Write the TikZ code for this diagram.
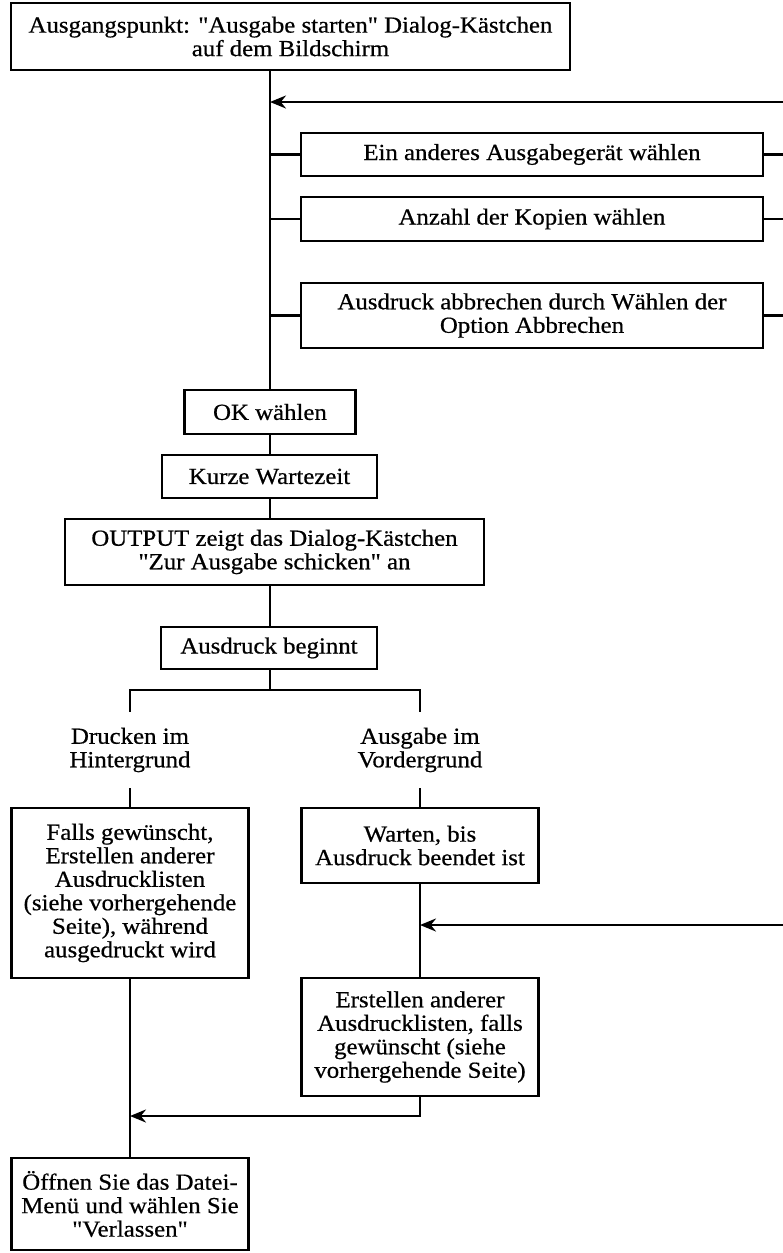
\documentclass[tikz,border=0pt]{standalone}
\usepackage{fontspec}
\newfontfamily\diafont{Liberation Serif}[FakeStretch=1.08,FakeBold=0.6]
\usetikzlibrary{arrows.meta}
\begin{document}
\begin{tikzpicture}[x=1pt,y=-1pt,
  txt/.style={font=\diafont\fontsize{23}{23.5}\selectfont},
  box/.style={txt,draw,line width=2.4pt,inner sep=0pt,align=center},
  lbl/.style={txt,inner sep=0pt,align=center,minimum height=76pt},
  ln/.style={line width=2.4pt},
  arr/.style={line width=2.4pt,-{Stealth[length=16pt,width=13pt]}}]
\useasboundingbox (0,0) rectangle (783,1253);
% boxes
\node[box,minimum width=559pt,minimum height=67pt] (top) at (290.5,36.5) {Ausgangspunkt: "Ausgabe starten" Dialog-Kästchen\\auf dem Bildschirm};
\node[box,minimum width=462pt,minimum height=43pt] (b1) at (532,154.5) {Ein anderes Ausgabegerät wählen};
\node[box,minimum width=462pt,minimum height=44pt] (b2) at (532,219) {Anzahl der Kopien wählen};
\node[box,minimum width=462pt,minimum height=65pt] (b3) at (532,315.5) {Ausdruck abbrechen durch Wählen der\\Option Abbrechen};
\node[box,minimum width=171pt,minimum height=44pt] (ok) at (270,412) {OK wählen};
\node[box,minimum width=215pt,minimum height=43pt] (kurz) at (269.5,476.5) {Kurze Wartezeit};
\node[box,minimum width=419pt,minimum height=66pt] (out) at (274.5,552) {OUTPUT zeigt das Dialog-Kästchen\\"Zur Ausgabe schicken" an};
\node[box,minimum width=216pt,minimum height=42pt] (beg) at (269,648) {Ausdruck beginnt};
\node[lbl] (hint) at (130,750) {Drucken im\\Hintergrund};
\node[lbl] (vord) at (420,750) {Ausgabe im\\Vordergrund};
\node[box,minimum width=237pt,minimum height=170pt] (lbox) at (130,893) {Falls gewünscht,\\Erstellen anderer\\Ausdrucklisten\\(siehe vorhergehende\\Seite), während\\ausgedruckt wird};
\node[box,minimum width=237pt,minimum height=75pt] (wart) at (420,845.5) {Warten, bis\\Ausdruck beendet ist};
\node[box,minimum width=237pt,minimum height=118pt] (erst) at (420,1037) {Erstellen anderer\\Ausdrucklisten, falls\\gewünscht (siehe\\vorhergehende Seite)};
\node[box,minimum width=237pt,minimum height=92pt] (fin) at (130,1204) {Öffnen Sie das Datei-\\Menü und wählen Sie\\"Verlassen"};
% helper coordinates
\coordinate (r1) at (783,102);
\coordinate (r2) at (783,925);
\coordinate (br) at (270,690);
\coordinate (jn) at (420,1116);
% main line
\draw[ln] (top.south -| ok.north) -- (ok.north);
\draw[arr] (r1) -- (r1 -| ok.north);
\foreach \b in {b1,b2,b3}{
  \draw[ln] (\b.west) -- (\b.west -| ok.north);
  \draw[ln] (\b.east) -- (\b.east -| r1);
}
\draw[ln] (ok.south) -- (ok.south |- kurz.north);
\draw[ln] (kurz.south -| ok.south) -- (out.north -| ok.south);
\draw[ln] (out.south -| ok.south) -- (beg.north -| ok.south);
\draw[ln] (beg.south -| ok.south) -- (br);
\draw[ln] (hint.north) -- (hint.north |- br) -- (vord.north |- br) -- (vord.north);
\draw[ln] (hint.south) -- (lbox.north);
\draw[ln] (vord.south) -- (wart.north);
\draw[ln] (wart.south) -- (erst.north);
\draw[arr] (r2) -- (r2 -| wart.south);
\draw[ln] (lbox.south) -- (fin.north);
\draw[arr] (erst.south) -- (jn) -- (jn -| lbox.south);
\end{tikzpicture}
\end{document}
